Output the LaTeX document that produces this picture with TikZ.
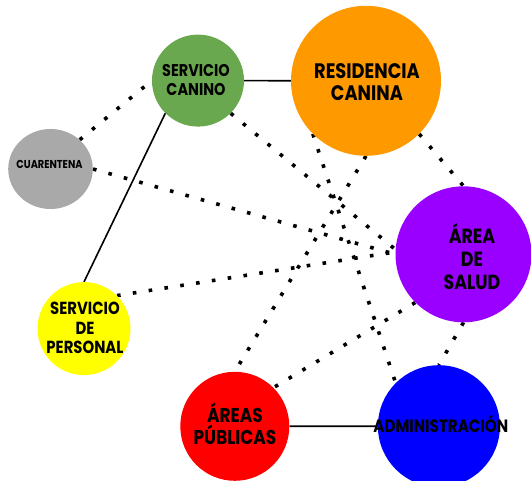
\documentclass[tikz,border=0pt]{standalone}
\usepackage{fontspec}
\setmainfont{Poppins}[FakeStretch=0.85]
\usetikzlibrary{shapes.geometric}
\pgfdeclarelayer{bg}
\pgfsetlayers{bg,main}
\definecolor{cgreen}{HTML}{6AA84F}
\definecolor{corange}{HTML}{FF9900}
\definecolor{cgray}{HTML}{A9A9A9}
\definecolor{cpurple}{HTML}{9900FF}
\definecolor{cyellow}{HTML}{FFFF00}
\definecolor{cred}{HTML}{FF0000}
\definecolor{cblue}{HTML}{0000FF}
\tikzset{
  blob/.style={circle, fill=#1, draw=none, inner sep=0pt},
  lbl/.style={align=center, inner sep=0pt, text=black},
  solidlink/.style={draw=black, line width=1.6pt},
  dotlink/.style={draw=black, line width=3.6pt, line cap=butt, dash pattern=on 3.6pt off 12.4pt},
}
\begin{document}
\begin{tikzpicture}[x=1pt,y=-1pt]
\useasboundingbox (0,0) rectangle (531,481);
% circles
\node[blob=cgreen, minimum size=92pt] (g) at (198,80.6) {};
\node[blob=corange, minimum size=150pt] (o) at (366,80.8) {};
\node[ellipse, fill=cgray, draw=none, inner sep=0pt, minimum width=84.6pt, minimum height=80pt] (c) at (50.5,169) {};
\node[blob=cpurple, minimum size=136pt] (p) at (463.5,254.3) {};
\node[blob=cyellow, minimum size=93pt] (y) at (84,328.6) {};
\node[blob=cred, minimum size=109pt] (r) at (234.8,426.3) {};
\node[blob=cblue, minimum size=122pt] (b) at (438.9,426.2) {};
% labels
\node[lbl, font=\fontsize{17}{18.5}\selectfont\bfseries] (tg) at (196,80) {SERVICIO\\CANINO};
\node[lbl, font=\fontsize{21}{21.6}\selectfont\bfseries] (to) at (367,82) {RESIDENCIA\\CANINA};
\node[lbl, font=\fontsize{11.5}{12}\selectfont\bfseries] (tc) at (49.5,164.5) {CUARENTENA};
\node[lbl, font=\fontsize{20.5}{23}\selectfont\bfseries] (tp) at (472,257) {ÁREA\\DE\\SALUD};
\node[lbl, font=\fontsize{17.5}{19.5}\selectfont\bfseries] (ty) at (85,328) {SERVICIO\\DE\\PERSONAL};
\node[lbl, font=\fontsize{20}{22}\selectfont\bfseries] (tr) at (235,424) {ÁREAS\\PÚBLICAS};
\node[lbl, font=\fontsize{17.8}{20}\selectfont\bfseries] (tb) at (440.8,423.5) {ADMINISTRACIÓN};
% connectors
\begin{pgfonlayer}{bg}
\draw[solidlink] (g.east) -- (o.west);
\draw[solidlink] (g.225) -- (y.north);
\draw[solidlink] (r.east) -- (b.west);
\draw[dotlink] (c.45) -- (g.west);
\draw[dotlink] (c.east) -- (p.180);
\draw[dotlink] (y.45) -- (p.178);
\draw[dotlink] (g.315) -- (p.176);
\draw[dotlink] (o.225) -- (b.135);
\draw[dotlink] (o.south) -- (r.north);
\draw[dotlink] (o.315) -- (p.north);
\draw[dotlink] (p.225) -- (r.45);
\draw[dotlink] (p.south) -- (b.north);
\end{pgfonlayer}
\end{tikzpicture}
\end{document}
